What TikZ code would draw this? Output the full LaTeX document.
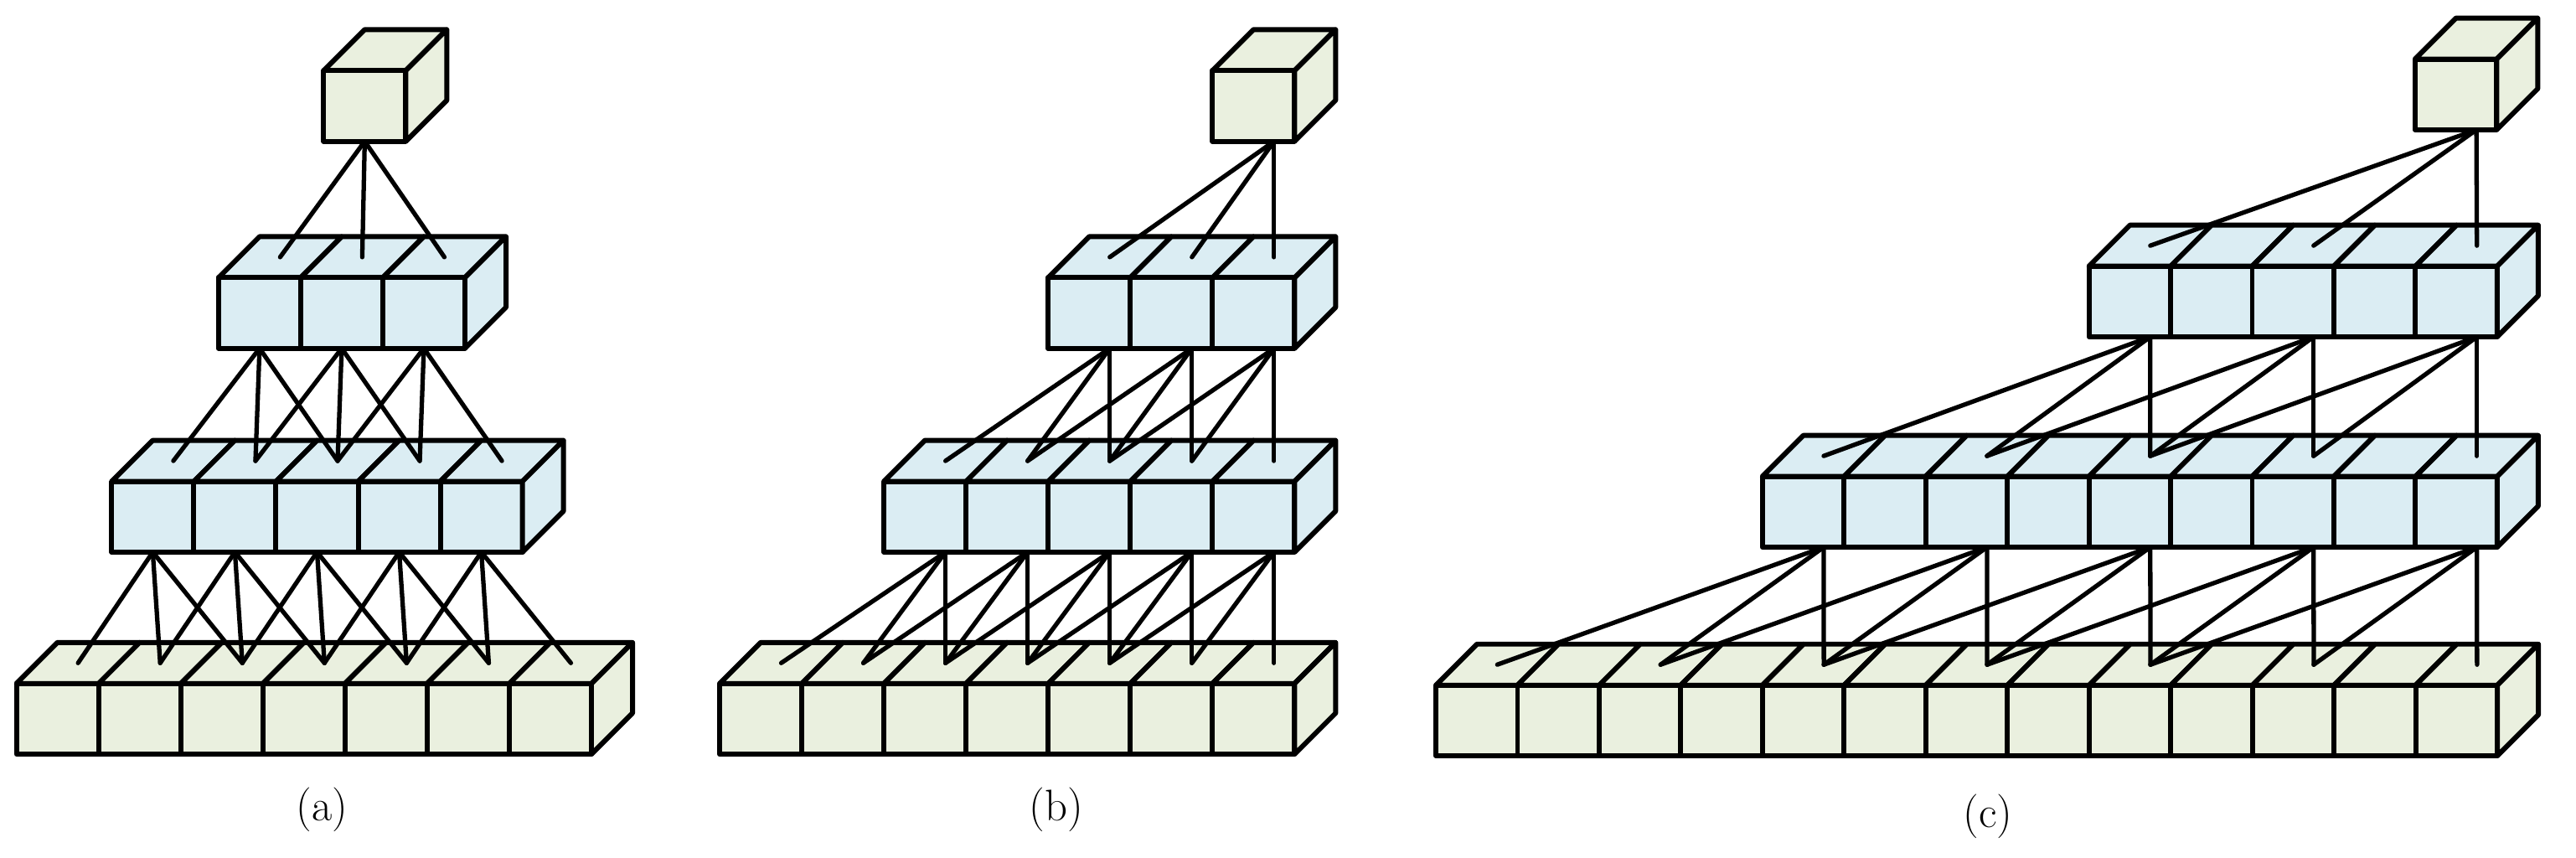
\documentclass[tikz,border=0pt]{standalone}
\begin{document}
\definecolor{cgreen}{HTML}{EAF0DF}
\definecolor{cblue}{HTML}{DBEDF3}
\tikzset{box/.style={draw=black,line width=1.7pt,line join=round},
  conn/.style={draw=black,line width=1.5pt,line cap=round},
  lab/.style={font=\fontsize{15}{18}\selectfont}}
\def\hh{43}\def\ddx{25}\def\ddy{25}
% #1 name, #2 n, #3 x, #4 y, #5 w, #6 fill, #7 origin offset
\newcommand\blkrow[7]{%
  \pgfmathsetmacro\rowlast{#2-1}
  \foreach \i in {0,...,\rowlast}{
    \pgfmathsetmacro\xa{#3+\i*#5}\pgfmathsetmacro\xb{#3+(\i+1)*#5}
    \path[box,fill=#6] (\xa,#4) -- (\xb,#4) -- ++(\ddx,-\ddy) -- ++(-#5,0) -- cycle;
    \path[box,fill=#6] (\xa,#4) rectangle (\xb,#4+\hh);
    \coordinate (#1-\i-t) at ({\xa+#5/2+\ddx/2},{#4-\ddy/2});
    \coordinate (#1-\i-b) at ({\xa+#5/2+#7},{#4+\hh});
  }
  \pgfmathsetmacro\xe{#3+#2*#5}
  \path[box,fill=#6] (\xe,#4) -- ++(\ddx,-\ddy) -- ++(0,\hh) -- ++(-\ddx,\ddy) -- cycle;
}
\begin{tikzpicture}[x=0.01961cm,y=-0.01961cm]
\useasboundingbox (0,0) rectangle (1568,522);
% (a)
\blkrow{a0}{1}{197}{43}{50}{cgreen}{0}
\blkrow{a1}{3}{133}{169}{50}{cblue}{0}
\blkrow{a2}{5}{68}{293}{50}{cblue}{0}
\blkrow{a3}{7}{10}{416}{50}{cgreen}{0}
% (b)
\blkrow{b0}{1}{738}{43}{50}{cgreen}{12.5}
\blkrow{b1}{3}{638}{169}{50}{cblue}{12.5}
\blkrow{b2}{5}{538}{293}{50}{cblue}{12.5}
\blkrow{b3}{7}{438}{416}{50}{cgreen}{12.5}
% (c)
\blkrow{c0}{1}{1470}{36}{49.7}{cgreen}{12.5}
\blkrow{c1}{5}{1271.5}{162}{49.7}{cblue}{12.5}
\blkrow{c2}{9}{1072.7}{290}{49.7}{cblue}{12.5}
\blkrow{c3}{13}{874}{417}{49.7}{cgreen}{12.5}
% connectors (a)
\foreach \j in {0,1,2} \draw[conn] (a0-0-b) -- (a1-\j-t);
\foreach \i in {0,1,2} \foreach \k in {0,1,2} {\pgfmathtruncatemacro\j{\i+\k}\draw[conn] (a1-\i-b) -- (a2-\j-t);}
\foreach \i in {0,...,4} \foreach \k in {0,1,2} {\pgfmathtruncatemacro\j{\i+\k}\draw[conn] (a2-\i-b) -- (a3-\j-t);}
% connectors (b)
\foreach \j in {0,1,2} \draw[conn] (b0-0-b) -- (b1-\j-t);
\foreach \i in {0,1,2} \foreach \k in {0,1,2} {\pgfmathtruncatemacro\j{\i+\k}\draw[conn] (b1-\i-b) -- (b2-\j-t);}
\foreach \i in {0,...,4} \foreach \k in {0,1,2} {\pgfmathtruncatemacro\j{\i+\k}\draw[conn] (b2-\i-b) -- (b3-\j-t);}
% connectors (c)
\foreach \j in {0,2,4} \draw[conn] (c0-0-b) -- (c1-\j-t);
\foreach \i in {0,2,4} \foreach \k in {0,2,4} {\pgfmathtruncatemacro\j{\i+\k}\draw[conn] (c1-\i-b) -- (c2-\j-t);}
\foreach \i in {0,2,4,6,8} \foreach \k in {0,2,4} {\pgfmathtruncatemacro\j{\i+\k}\draw[conn] (c2-\i-b) -- (c3-\j-t);}
% labels
\node[lab] (la) at (196,493) {(a)};
\node[lab] (lb) at (643,493) {(b)};
\node[lab] (lc) at (1210,497) {(c)};
\end{tikzpicture}
\end{document}
